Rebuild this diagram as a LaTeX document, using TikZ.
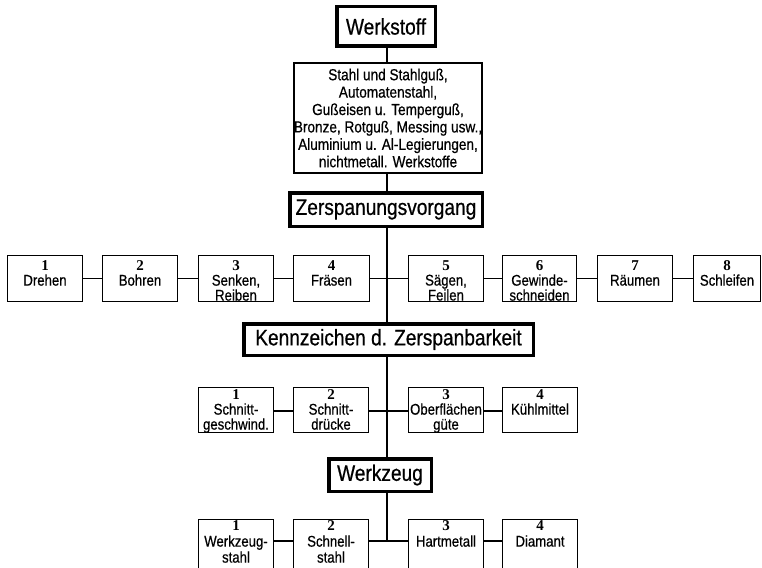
\documentclass[tikz,border=0pt]{standalone}
\usepackage{fontspec}
\setmainfont{Liberation Sans}[FakeStretch=0.85,FakeBold=0.6]
\newfontfamily\numfam{Liberation Serif}
\newcommand\bigf{\fontsize{22.5}{26}\selectfont}
\newcommand\labf{\fontsize{15.5}{15}\selectfont}
\newcommand\labg{\fontsize{15.5}{16}\selectfont}
\newcommand\matf{\fontsize{16}{17.4}\selectfont}
\newcommand\numb[1]{{\numfam\bfseries\fontsize{15}{15}\selectfont #1}}
\begin{document}
\begin{tikzpicture}[x=1pt,y=-1pt,
  thickbox/.style={draw, line width=3.5pt, inner sep=0pt, font=\bigf},
  thinbox/.style={draw, line width=1.4pt, inner sep=0pt},
  celltext/.style={align=center, inner sep=0pt, font=\labf, anchor=north},
  celltextb/.style={celltext, font=\labg},
  conn/.style={line width=1.6pt}]
\useasboundingbox (0,0) rectangle (762,567);
\coordinate (spine) at (387,0);
% main column
\node[thickbox, minimum width=98.5, minimum height=39.5] (wst) at (386,26.5) {Werkstoff};
\node[thinbox, minimum width=182.6, minimum height=109.6, align=center, font=\matf] (mat) at (388,118)
  {Stahl und Stahlguß,\\Automatenstahl,\\Gußeisen u. Temperguß,\\Bronze, Rotguß, Messing usw.,\\Aluminium u. Al-Legierungen,\\nichtmetall. Werkstoffe};
\node[thickbox, minimum width=192.5, minimum height=33.5] (zsv) at (386,209.5) {Zerspanungsvorgang};
\node[thickbox, minimum width=289.5, minimum height=31.5] (kzb) at (388.5,339.5) {Kennzeichen d. Zerspanbarkeit};
\node[thickbox, minimum width=102.5, minimum height=32.5] (wzg) at (380,475) {Werkzeug};
% row 1
\node[thinbox, minimum width=74.6, minimum height=45.6] (r1a) at (45,278.5) {};
\node[thinbox, minimum width=74.6, minimum height=45.6] (r1b) at (140,278.5) {};
\node[thinbox, minimum width=74.6, minimum height=45.6] (r1c) at (236,278.5) {};
\node[thinbox, minimum width=75.6, minimum height=45.6] (r1d) at (331.5,278.5) {};
\node[thinbox, minimum width=74.6, minimum height=45.6] (r1e) at (446,278.5) {};
\node[thinbox, minimum width=73.6, minimum height=45.6] (r1f) at (539.5,278.5) {};
\node[thinbox, minimum width=74.6, minimum height=45.6] (r1g) at (635,278.5) {};
\node[thinbox, minimum width=66.6, minimum height=45.6] (r1h) at (727,278.5) {};
\node[celltext] (r1at) at (45,260.5) {\numb{1}\\Drehen};
\node[celltext] (r1bt) at (140,260.5) {\numb{2}\\Bohren};
\node[celltext] (r1ct) at (236,260.5) {\numb{3}\\Senken,\\Reiben};
\node[celltext] (r1dt) at (331.5,260.5) {\numb{4}\\Fräsen};
\node[celltext] (r1et) at (446,260.5) {\numb{5}\\Sägen,\\Feilen};
\node[celltext] (r1ft) at (539.5,260.5) {\numb{6}\\Gewinde-\\schneiden};
\node[celltext] (r1gt) at (635,260.5) {\numb{7}\\Räumen};
\node[celltext] (r1ht) at (727,260.5) {\numb{8}\\Schleifen};
% row 2
\node[thinbox, minimum width=74.6, minimum height=44.6] (r2a) at (236,410) {};
\node[thinbox, minimum width=74.6, minimum height=44.6] (r2b) at (331,410) {};
\node[thinbox, minimum width=74.6, minimum height=44.6] (r2c) at (446,410) {};
\node[thinbox, minimum width=74.6, minimum height=44.6] (r2d) at (540,410) {};
\node[celltext] (r2at) at (236,389.5) {\numb{1}\\Schnitt-\\geschwind.};
\node[celltext] (r2bt) at (331,389.5) {\numb{2}\\Schnitt-\\drücke};
\node[celltext] (r2ct) at (446,389.5) {\numb{3}\\Oberflächen\\güte};
\node[celltext] (r2dt) at (540,389.5) {\numb{4}\\Kühlmittel};
% row 3
\node[thinbox, minimum width=74.6, minimum height=52] (r3a) at (236,545.7) {};
\node[thinbox, minimum width=74.6, minimum height=52] (r3b) at (331,545.7) {};
\node[thinbox, minimum width=74.6, minimum height=52] (r3c) at (446,545.7) {};
\node[thinbox, minimum width=74.6, minimum height=52] (r3d) at (540,545.7) {};
\node[celltextb] (r3at) at (236,520.5) {\numb{1}\\Werkzeug-\\stahl};
\node[celltextb] (r3bt) at (331,520.5) {\numb{2}\\Schnell-\\stahl};
\node[celltextb] (r3ct) at (446,520.5) {\numb{3}\\Hartmetall};
\node[celltextb] (r3dt) at (540,520.5) {\numb{4}\\Diamant};
% connectors
\coordinate (c3) at (387,541);
\draw[conn] (wst.south -| spine) -- (mat.north -| spine);
\draw[conn] (mat.south -| spine) -- (zsv.north -| spine);
\draw[conn] (zsv.south -| spine) -- (kzb.north -| spine);
\draw[conn] (kzb.south -| spine) -- (wzg.north -| spine);
\draw[conn] (wzg.south -| spine) -- (c3);
\draw[conn] (r1a.east) -- (r1b.west);
\draw[conn] (r1b.east) -- (r1c.west);
\draw[conn] (r1c.east) -- (r1d.west);
\draw[conn] (r1d.east) -- (r1e.west);
\draw[conn] (r1e.east) -- (r1f.west);
\draw[conn] (r1f.east) -- (r1g.west);
\draw[conn] (r1g.east) -- (r1h.west);
\draw[conn] ([yshift=-1pt]r2a.east) -- ([yshift=-1pt]r2b.west);
\draw[conn] ([yshift=-1pt]r2b.east) -- ([yshift=-1pt]r2c.west);
\draw[conn] ([yshift=-1pt]r2c.east) -- ([yshift=-1pt]r2d.west);
\draw[conn] (r3a.east |- c3) -- (r3b.west |- c3);
\draw[conn] (r3b.east |- c3) -- (r3c.west |- c3);
\draw[conn] (r3c.east |- c3) -- (r3d.west |- c3);
\end{tikzpicture}
\end{document}
